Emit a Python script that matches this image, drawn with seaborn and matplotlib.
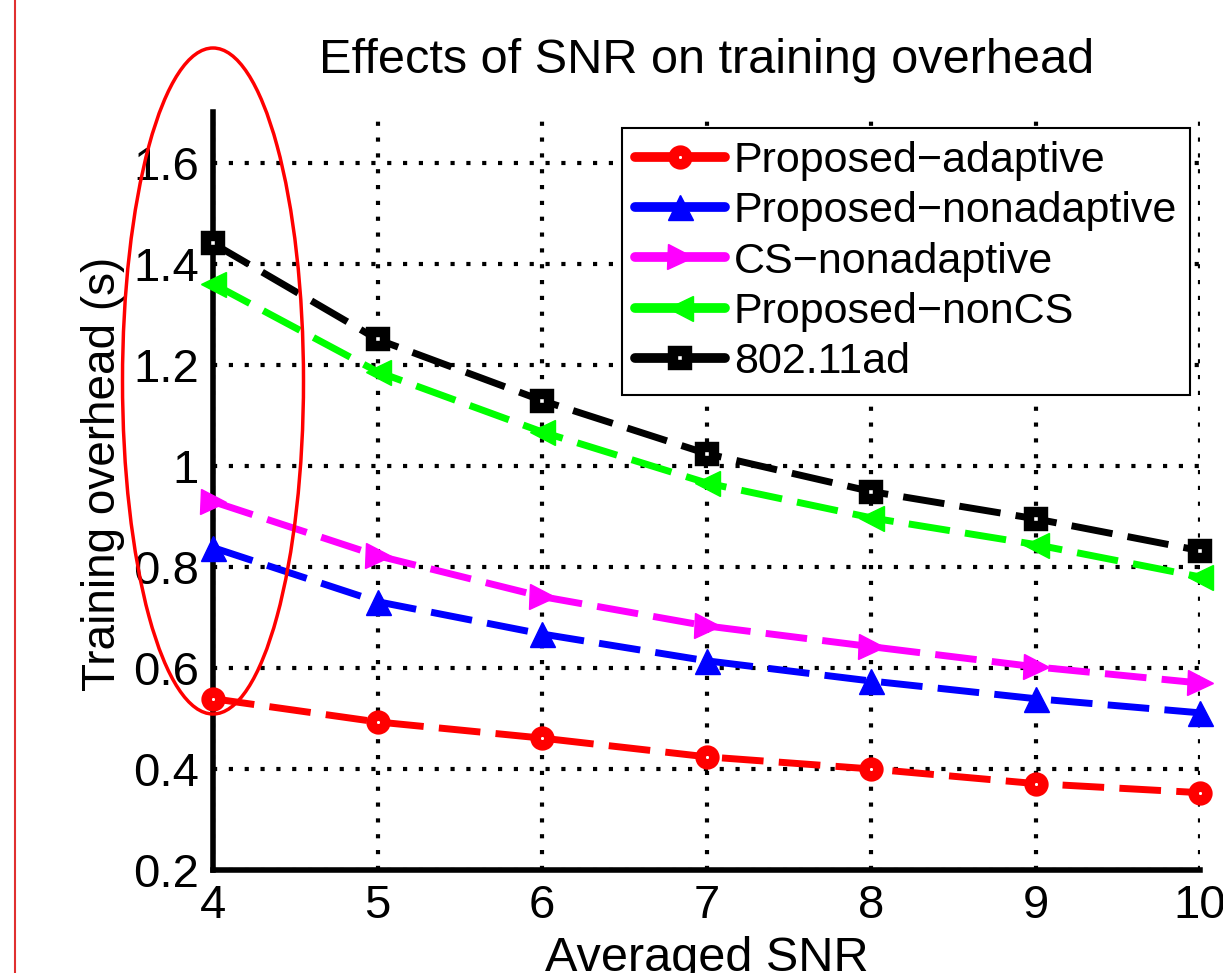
import matplotlib
matplotlib.use('Agg')
import matplotlib.pyplot as plt
from matplotlib.patches import Ellipse
from matplotlib.lines import Line2D
import seaborn as sns

# data
snr = [4, 5, 6, 7, 8, 9, 10]
proposed_adaptive = [0.539, 0.493, 0.461, 0.424, 0.400, 0.371, 0.353]
proposed_nonadaptive = [0.838, 0.731, 0.667, 0.614, 0.574, 0.539, 0.511]
cs_nonadaptive = [0.929, 0.822, 0.741, 0.683, 0.642, 0.602, 0.570]
proposed_noncs = [1.36, 1.186, 1.067, 0.966, 0.897, 0.844, 0.780]
ieee_80211ad = [1.44, 1.25, 1.129, 1.024, 0.949, 0.895, 0.832]

series_names = ['Proposed\u2212adaptive', 'Proposed\u2212nonadaptive', 'CS\u2212nonadaptive',
                'Proposed\u2212nonCS', '802.11ad']
series_vals = [proposed_adaptive, proposed_nonadaptive, cs_nonadaptive, proposed_noncs, ieee_80211ad]
colors = ['#ff0000', '#0000ff', '#ff00ff', '#00ff00', '#000000']
markers = ['o', '^', '>', '<', 's']

yticks = [0.2, 0.4, 0.6, 0.8, 1.0, 1.2, 1.4, 1.6]
ytick_labels = ['0.2', '0.4', '0.6', '0.8', '1', '1.2', '1.4', '1.6']


def marker_style(c, m, big=1.0):
    # circles and squares drawn matlab-like: thick edge with a tiny hole
    if m in ('o', 's'):
        return dict(marker=m, markersize=10 * big, markeredgewidth=7.5 * big,
                    markeredgecolor=c, markerfacecolor='white')
    return dict(marker=m, markersize=18 * big, markeredgewidth=1,
                markeredgecolor=c, markerfacecolor=c)


sns.set_style('white')
plt.rcParams['font.family'] = ['Liberation Sans', 'DejaVu Sans']
for key in ['text.color', 'axes.labelcolor', 'xtick.color', 'ytick.color']:
    plt.rcParams[key] = 'black'

fig = plt.figure(figsize=(12.23, 9.73), dpi=100)
ax = fig.add_axes([213 / 1223, 103 / 973, 987 / 1223, 758 / 973])

for name, vals, c, m in zip(series_names, series_vals, colors, markers):
    sns.lineplot(x=snr, y=vals, ax=ax, color=c, linewidth=5,
                 linestyle=(0, (6, 2.2)), label=name, clip_on=False, zorder=5,
                 **marker_style(c, m))

ax.set_xlim(4, 10)
ax.set_ylim(0.2, 1.7)
ax.set_xticks(snr)
ax.set_xticklabels([str(s) for s in snr], fontsize=34)
ax.set_yticks(yticks)
ax.set_yticklabels(ytick_labels, fontsize=34)
ax.tick_params(direction='in', length=8, width=4, pad=10, colors='black')
ax.grid(True, color='black', linestyle=(0, (1, 2.8)), linewidth=3)

for side in ['top', 'right']:
    ax.spines[side].set_visible(False)
for side in ['left', 'bottom']:
    ax.spines[side].set_linewidth(4)
    ax.spines[side].set_color('black')

ax.set_title('Effects of SNR on training overhead', fontsize=35, pad=28)
ax.set_xlabel('Averaged SNR', fontsize=35, labelpad=6)
ax.set_ylabel('Training overhead (s)', fontsize=33)
ax.yaxis.set_label_coords(-0.089, 0.522)

handles = [Line2D([], [], color=c, linewidth=7, **marker_style(c, m, 1.0))
           for c, m in zip(colors, markers)]
leg = ax.legend(handles, series_names, loc='upper right', bbox_to_anchor=(0.99, 0.979),
                fontsize=31, frameon=True, fancybox=False, handlelength=2.1,
                handletextpad=0.2, labelspacing=0.24, borderpad=0.3, borderaxespad=0)
leg.get_frame().set_edgecolor('black')
leg.get_frame().set_linewidth(1.5)
leg.get_frame().set_alpha(1)

# red annotation: border line and ellipse around the SNR=4 column
fig.add_artist(Line2D([15 / 1223, 15 / 1223], [0, 1], color='#e03030', linewidth=1.5,
                      transform=fig.transFigure))
fig.add_artist(Ellipse((213 / 1223, 1 - 381 / 973), 181 / 1223, 666 / 973,
                       transform=fig.transFigure, fill=False, edgecolor='red', linewidth=2.5))

plt.savefig('out.png', dpi=100)
plt.close()
